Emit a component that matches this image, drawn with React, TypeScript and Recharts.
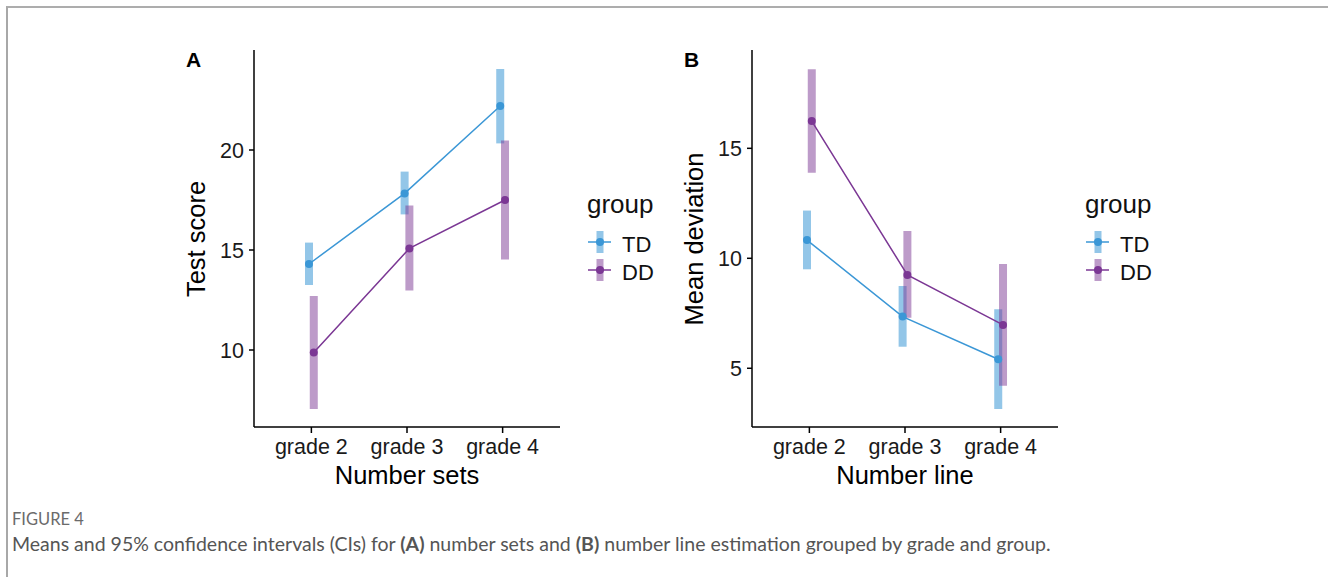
import { ComposedChart, ErrorBar, Line, XAxis, YAxis } from "recharts";

const grades = ["grade 2", "grade 3", "grade 4"];
const groups = ["TD", "DD"];

// (A) number sets: means and 95% CI bounds
const setsTdMean = [14.3, 17.83, 22.2];
const setsTdLow = [13.25, 16.78, 20.33];
const setsTdHigh = [15.37, 18.92, 24.05];
const setsDdMean = [9.87, 15.08, 17.5];
const setsDdLow = [7.05, 12.97, 14.53];
const setsDdHigh = [12.7, 17.22, 20.47];
const setsTicks = [10, 15, 20];

// (B) number line estimation: means and 95% CI bounds
const lineTdMean = [10.83, 7.35, 5.41];
const lineTdLow = [9.5, 5.98, 3.15];
const lineTdHigh = [12.17, 8.74, 7.68];
const lineDdMean = [16.24, 9.24, 6.97];
const lineDdLow = [13.89, 7.3, 4.21];
const lineDdHigh = [18.6, 11.24, 9.74];
const lineTicks = [5, 10, 15];

const TD_COLOR = "#3b97d6";
const TD_BAND = "rgba(59, 151, 214, 0.55)";
const DD_COLOR = "#7b3794";
const DD_BAND = "rgba(123, 55, 148, 0.5)";
const FONT = "'Liberation Sans', Arial, sans-serif";
const DODGE = 0.025;

type Row = { x: number; mean: number; err: [number, number] };

function toRows(mean: number[], low: number[], high: number[], shift: number): Row[] {
  return mean.map((m, i) => ({ x: i + 1 + shift, mean: m, err: [m - low[i], high[i] - m] }));
}

const axisStyle = { stroke: "#000", strokeWidth: 1.5 };
const tickStyle = { fill: "#1a1a1a", fontSize: 21.5, fontFamily: FONT };

type PanelProps = {
  left: number;
  letter: string;
  yTitle: string;
  xTitle: string;
  domain: [number, number];
  ticks: number[];
  td: Row[];
  dd: Row[];
};

function LegendKey({ x, y, color, band, label }: { x: number; y: number; color: string; band: string; label: string }) {
  return (
    <>
      <svg style={{ position: "absolute", left: x, top: y - 14 }} width={26} height={28}>
        <rect x={9.5} y={3} width={7} height={22} fill={band} />
        <line x1={1} x2={24} y1={14} y2={14} stroke={color} strokeWidth={1.5} />
        <circle cx={13} cy={14} r={4} fill={color} />
      </svg>
      <div style={{ position: "absolute", left: x + 35, top: y - 8, fontSize: 22, lineHeight: 1, fontFamily: FONT, color: "#111" }}>
        {label}
      </div>
    </>
  );
}

function Panel({ left, letter, yTitle, xTitle, domain, ticks, td, dd }: PanelProps) {
  const plotLeft = left + 104;
  const plotRight = plotLeft + 306;
  return (
    <>
      <div style={{ position: "absolute", left, top: 30 }}>
        <ComposedChart width={500} height={480} margin={{ top: 20, right: 90, bottom: 13, left: 0 }}>
          <XAxis
            type="number"
            dataKey="x"
            domain={[0.4, 3.6]}
            ticks={[1, 2, 3]}
            allowDataOverflow
            tickFormatter={(v: number) => grades[Math.round(v) - 1]}
            height={70}
            tickSize={6}
            tickMargin={6}
            axisLine={axisStyle}
            tickLine={axisStyle}
            tick={tickStyle}
          />
          <YAxis
            type="number"
            domain={domain}
            ticks={ticks}
            allowDataOverflow
            width={104}
            tickSize={5}
            tickMargin={5}
            axisLine={axisStyle}
            tickLine={axisStyle}
            tick={tickStyle}
          />
          <Line data={td} dataKey="mean" stroke="none" dot={false} activeDot={false} legendType="none" isAnimationActive={false}>
            <ErrorBar dataKey="err" width={0} strokeWidth={8} stroke={TD_BAND} direction="y" isAnimationActive={false} />
          </Line>
          <Line data={dd} dataKey="mean" stroke="none" dot={false} activeDot={false} legendType="none" isAnimationActive={false}>
            <ErrorBar dataKey="err" width={0} strokeWidth={8} stroke={DD_BAND} direction="y" isAnimationActive={false} />
          </Line>
          <Line
            data={td}
            dataKey="mean"
            name={groups[0]}
            stroke={TD_COLOR}
            strokeWidth={1.5}
            dot={{ r: 4, fill: TD_COLOR, stroke: "none" }}
            activeDot={false}
            isAnimationActive={false}
          />
          <Line
            data={dd}
            dataKey="mean"
            name={groups[1]}
            stroke={DD_COLOR}
            strokeWidth={1.5}
            dot={{ r: 4, fill: DD_COLOR, stroke: "none" }}
            activeDot={false}
            isAnimationActive={false}
          />
        </ComposedChart>
      </div>
      <div style={{ position: "absolute", left: plotLeft - 68, top: 49, fontSize: 21, fontWeight: 700, lineHeight: 1, fontFamily: FONT, color: "#000" }}>
        {letter}
      </div>
      <div
        style={{
          position: "absolute",
          left: plotLeft - 57,
          top: 238.5,
          transform: "translate(-50%, -50%) rotate(-90deg)",
          whiteSpace: "nowrap",
          fontSize: 25.5,
          lineHeight: 1,
          fontFamily: FONT,
          color: "#000",
        }}
      >
        {yTitle}
      </div>
      <div
        style={{
          position: "absolute",
          left: plotLeft + 153,
          top: 463,
          transform: "translateX(-50%)",
          whiteSpace: "nowrap",
          fontSize: 25.5,
          lineHeight: 1,
          fontFamily: FONT,
          color: "#000",
        }}
      >
        {xTitle}
      </div>
      <div style={{ position: "absolute", left: plotRight + 27, top: 191, fontSize: 26, lineHeight: 1, fontFamily: FONT, color: "#111" }}>
        group
      </div>
      <LegendKey x={plotRight + 27} y={242} color={TD_COLOR} band={TD_BAND} label={groups[0]} />
      <LegendKey x={plotRight + 27} y={270} color={DD_COLOR} band={DD_BAND} label={groups[1]} />
    </>
  );
}

export default function App() {
  return (
    <div style={{ position: "absolute", left: 0, top: 0, width: 1328, height: 577, background: "#fff", overflow: "hidden" }}>
      <div style={{ position: "absolute", left: 6, top: 6, width: 1400, height: 700, borderTop: "2px solid #adadad", borderLeft: "2px solid #a8a8a8" }} />
      <Panel
        left={150}
        letter="A"
        yTitle="Test score"
        xTitle="Number sets"
        domain={[6.15, 25]}
        ticks={setsTicks}
        td={toRows(setsTdMean, setsTdLow, setsTdHigh, -DODGE)}
        dd={toRows(setsDdMean, setsDdLow, setsDdHigh, DODGE)}
      />
      <Panel
        left={648}
        letter="B"
        yTitle="Mean deviation"
        xTitle="Number line"
        domain={[2.33, 19.47]}
        ticks={lineTicks}
        td={toRows(lineTdMean, lineTdLow, lineTdHigh, -DODGE)}
        dd={toRows(lineDdMean, lineDdLow, lineDdHigh, DODGE)}
      />
      <div style={{ position: "absolute", left: 12, top: 511, fontSize: 16.5, lineHeight: 1, fontFamily: "Lato, sans-serif", color: "#6b6b6b" }}>
        FIGURE 4
      </div>
      <div style={{ position: "absolute", left: 12, top: 534, fontSize: 19.5, lineHeight: 1, fontFamily: "Lato, sans-serif", color: "#555", whiteSpace: "nowrap" }}>
        Means and 95% confidence intervals (CIs) for <b>(A)</b> number sets and <b>(B)</b> number line estimation grouped by grade and group.
      </div>
    </div>
  );
}
